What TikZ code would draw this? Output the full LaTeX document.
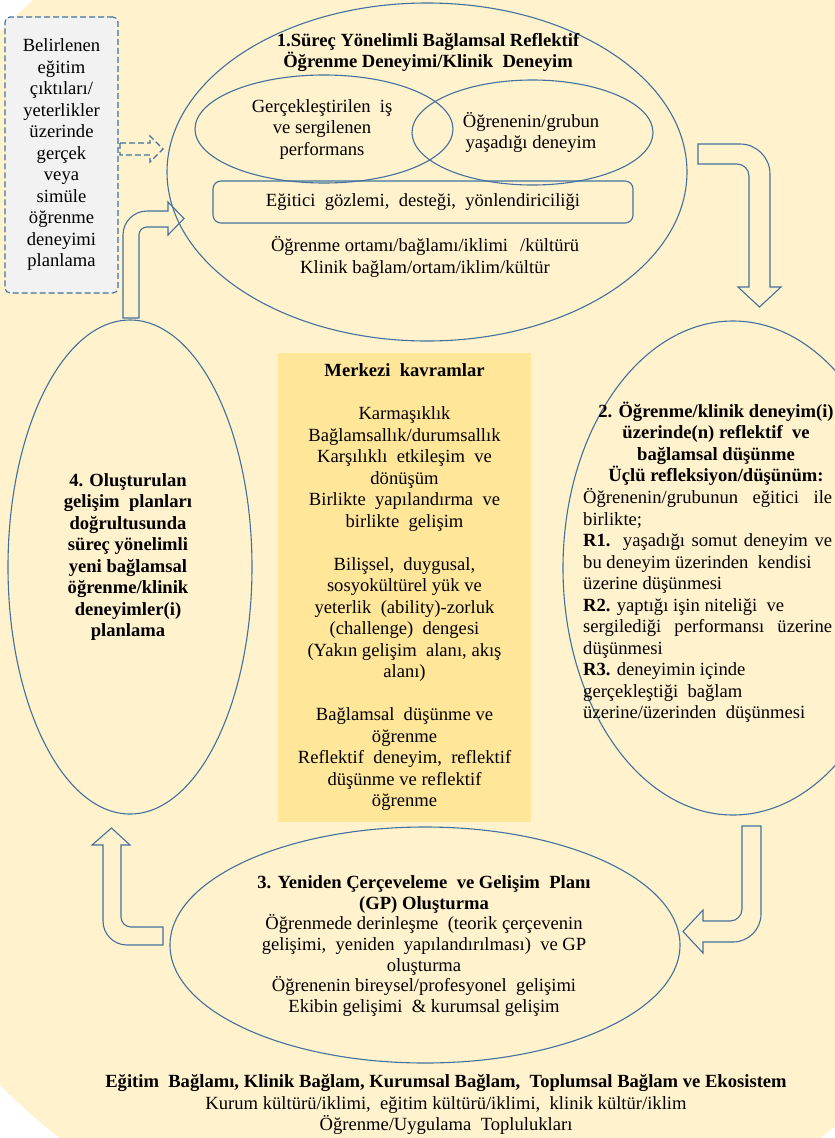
\documentclass[tikz,border=0pt]{standalone}
\usepackage{fontspec}
\setmainfont{Liberation Serif}
\usepackage{tikz}
\usetikzlibrary{shapes.geometric}
\definecolor{cream}{HTML}{FFF2CC}
\definecolor{gold}{HTML}{FFE699}
\definecolor{lgray}{HTML}{F2F2F2}
\definecolor{lineblue}{HTML}{41719C}
\newcommand{\fullline}[1]{\makebox[249pt][s]{#1}}

\begin{document}
\begin{tikzpicture}[x = 1pt, y = -1pt,
    oval/.style = {draw = lineblue, line width = 1.1pt, ellipse, inner sep = 0pt},
    txt/.style = {align = center, inner sep = 0pt, font = \fontsize{18.6}{21.5}\selectfont},
    bold/.style = {txt, font = \fontsize{18.6}{21.5}\selectfont\bfseries},
    blk/.style = {draw = lineblue, line width = 1.1pt}]
  \useasboundingbox (0, 0) rectangle (835, 1138);
  \clip (0, 0) rectangle (835, 1138);
  \fill[white] (0, 0) rectangle (835, 1138);
  \fill[cream] (440, 558) ellipse [x radius = 652pt, y radius = 714pt];

  % 1. deneyim
  \node[oval, minimum width = 520pt, minimum height = 338pt] (e1) at (427, 172) {};
  \node[bold] (t1) at (428, 52.5) {1.Süreç Yönelimli Bağlamsal Reflektif\\Öğrenme Deneyimi/Klinik\ \ Deneyim};
  \node[oval, minimum width = 258pt, minimum height = 108pt] (ea) at (324, 129) {};
  \node[txt] (ta) at (322, 129.5) {Gerçekleştirilen\ \ iş\\ve sergilenen\\performans};
  \node[oval, minimum width = 241pt, minimum height = 105pt] (eb) at (532.5, 132.5) {};
  \node[txt] (tb) at (531, 132.5) {Öğrenenin/grubun\\yaşadığı deneyim};
  \node[txt, draw = lineblue, line width = 1.1pt, rounded corners = 8pt,
    minimum width = 420pt, minimum height = 42pt] (gozlem) at (423, 202)
    {Eğitici\ \ gözlemi,\ \ desteği,\ \ yönlendiriciliği};
  \node[txt] (ortam) at (425, 257) {Öğrenme ortamı/bağlamı/iklimi\hspace{12pt}/kültürü\\Klinik bağlam/ortam/iklim/kültür};

  % planlama kutusu
  \node[txt, draw = lineblue, fill = lgray, dash pattern = on 6pt off 3pt, rounded corners = 5pt,
    line width = 1.1pt, minimum width = 113pt, minimum height = 276pt] (plan) at (61.5, 155)
    {Belirlenen\\eğitim\\çıktıları/\\yeterlikler\\üzerinde\\gerçek\\veya\\simüle\\öğrenme\\deneyimi\\planlama};

  % 4. planlama
  \node[oval, minimum width = 244pt, minimum height = 494pt] (e4) at (130, 567) {};
  \node[bold] (t4) at (128, 557) {4. Oluşturulan\\gelişim\ \ planları\\doğrultusunda\\süreç yönelimli\\yeni bağlamsal\\öğrenme/klinik\\deneyimler(i)\\planlama};

  % 2. düşünme
  \node[oval, minimum width = 340pt, minimum height = 494pt] (e2) at (733, 568) {};
  \node[bold] (t2) at (716, 444) {2. Öğrenme/klinik deneyim(i)\\üzerinde(n) reflektif\ \ ve\\bağlamsal düşünme\\Üçlü refleksiyon/düşünüm:};
  \node[txt, align = left, anchor = west] (r2) at (583, 605.5)
    {\fullline{Öğrenenin/grubunun eğitici ile}\\birlikte;\\\fullline{\textbf{R1.} yaşadığı somut deneyim ve}\\bu deneyim üzerinden\ \ kendisi\\üzerine düşünmesi\\\textbf{R2.} yaptığı işin niteliği\ \ ve\\\fullline{sergilediği performansı üzerine}\\düşünmesi\\\textbf{R3.} deneyimin içinde\\gerçekleştiği\ \ bağlam\\üzerine/üzerinden\ \ düşünmesi};

  % merkez
  \node[txt, fill = gold, minimum width = 253pt, minimum height = 469pt] (merkez) at (404.5, 587.5)
    {\textbf{Merkezi\ \ kavramlar}\\[21.5pt]
     Karmaşıklık\\Bağlamsallık/durumsallık\\Karşılıklı\ \ etkileşim\ \ ve\\dönüşüm\\Birlikte\ \ yapılandırma\ \ ve\\birlikte\ \ gelişim\\[21.5pt]
     Bilişsel,\ \ duygusal,\\sosyokültürel yük ve\\yeterlik\ \ (ability)-zorluk\\(challenge)\ \ dengesi\\(Yakın gelişim\ \ alanı, akış\\alanı)\\[21.5pt]
     Bağlamsal\ \ düşünme ve\\öğrenme\\Reflektif\ \ deneyim,\ \ reflektif\\düşünme ve reflektif\\öğrenme};

  % 3. yeniden çerçeveleme
  \node[oval, minimum width = 510pt, minimum height = 236pt] (e3) at (425, 945) {};
  \node[txt, font = \fontsize{18.6}{20.7}\selectfont] (t3) at (424, 946)
    {\textbf{3. Yeniden Çerçeveleme\ \ ve Gelişim\ \ Planı}\\\textbf{(GP) Oluşturma}\\
     Öğrenmede derinleşme\ \ (teorik çerçevenin\\gelişimi,\ \ yeniden\ \ yapılandırılması)\ \ ve GP\\oluşturma\\
     Öğrenenin bireysel/profesyonel\ \ gelişimi\\Ekibin gelişimi\ \ \& kurumsal gelişim};

  \node[txt] (baglam) at (446, 1104.5)
    {\textbf{Eğitim\ \ Bağlamı, Klinik Bağlam, Kurumsal Bağlam,\ \ Toplumsal Bağlam ve Ekosistem}\\
     Kurum kültürü/iklimi,\ \ eğitim kültürü/iklimi,\ \ klinik kültür/iklim\\Öğrenme/Uygulama\ \ Toplulukları};

  % oklar
  \draw[blk, dash pattern = on 6pt off 3pt] (120, 143) -- (150, 143) -- (150, 136) -- (163, 149)
    -- (150, 162) -- (150, 155) -- (120, 155) -- cycle;
  \draw[blk] (123, 318) [rounded corners = 24pt] -- (123, 211) [sharp corners] -- (168, 211)
    -- (168, 202) -- (184, 218.5) -- (168, 235) -- (168, 227) [rounded corners = 8pt] -- (139, 227)
    [sharp corners] -- (139, 318) -- cycle;
  \draw[blk] (698, 144) [rounded corners = 30pt] -- (770, 144) [sharp corners] -- (770, 287)
    -- (781, 287) -- (759.5, 307) -- (738, 287) -- (749, 287) [rounded corners = 12pt] -- (749, 164)
    [sharp corners] -- (698, 164) -- cycle;
  \draw[blk] (742, 826) -- (761, 826) [rounded corners = 28pt] -- (761, 942) [sharp corners]
    -- (703, 942) -- (703, 953) -- (683, 931.5) -- (703, 910) -- (703, 921) [rounded corners = 12pt]
    -- (742, 921) [sharp corners] -- cycle;
  \draw[blk] (163, 945) [rounded corners = 24pt] -- (103, 945) [sharp corners] -- (103, 845)
    -- (92, 845) -- (111.5, 828) -- (130, 845) -- (121, 845) [rounded corners = 10pt] -- (121, 927)
    [sharp corners] -- (163, 927) -- cycle;
\end{tikzpicture}
\end{document}
